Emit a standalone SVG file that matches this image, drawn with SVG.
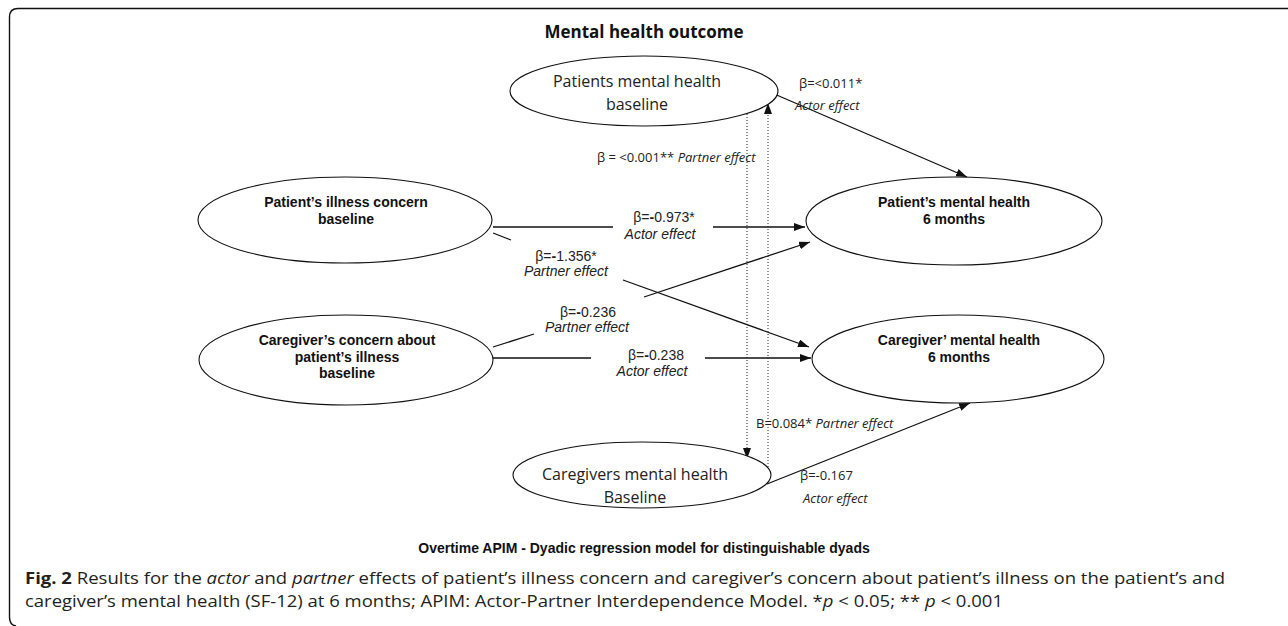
<svg xmlns="http://www.w3.org/2000/svg" width="1288" height="626" viewBox="0 0 1288 626">
<style>
.bg{fill:#fff}
.frame{fill:none;stroke:#111;stroke-width:1.4}
.node{fill:#fff;stroke:#111;stroke-width:1.1}
.c{fill:none;stroke:#111;stroke-width:1.3}
.d{fill:none;stroke:#222;stroke-width:1;stroke-dasharray:1 2}
.t1{font-family:"Open Sans","DejaVu Sans",sans-serif;font-size:16px;fill:#222;text-anchor:middle}
.t2{font-family:"Liberation Sans",Arial,sans-serif;font-size:14px;font-weight:bold;fill:#111;text-anchor:middle}
.la{font-family:"Liberation Sans",Arial,sans-serif;font-size:14px;fill:#222;text-anchor:middle}
.lo{font-family:"Open Sans","DejaVu Sans",sans-serif;font-size:13px;fill:#222}
.it{font-style:italic}
.title{font-family:"Open Sans","DejaVu Sans",sans-serif;font-size:17px;font-weight:bold;fill:#111;text-anchor:middle}
.cap{font-family:"Liberation Sans",Arial,sans-serif;font-size:14px;font-weight:bold;fill:#111;text-anchor:middle}
.fig{font-family:"Open Sans","DejaVu Sans",sans-serif;font-size:16.5px;fill:#231f20}
</style>
<defs>
<marker id="ah" markerUnits="userSpaceOnUse" markerWidth="12" markerHeight="10" refX="11" refY="4" orient="auto">
<path d="M0,0 L11,4 L0,8 Z" fill="#111"/>
</marker>
</defs>
<rect class="bg" x="0" y="0" width="1288" height="626"/>
<path class="frame" d="M1288,8.5 H18 Q9.5,8.5 9.5,17 V617 Q9.5,625 16,626"/>
<text class="title" x="644" y="38">Mental health outcome</text>

<g id="connectors">
<path class="c" d="M772,93 L967,177" marker-end="url(#ah)"/>
<path class="d" d="M747,108 V459" marker-end="url(#ah)"/>
<path class="d" d="M768,467 V103" marker-end="url(#ah)"/>
<path class="c" d="M493,227 H613"/>
<path class="c" d="M713,227 H805" marker-end="url(#ah)"/>
<path class="c" d="M493,233 L511,240"/>
<path class="c" d="M623,280 L809,347" marker-end="url(#ah)"/>
<path class="c" d="M493,347 L534,334"/>
<path class="c" d="M644,297 L810,242" marker-end="url(#ah)"/>
<path class="c" d="M493,358 H591"/>
<path class="c" d="M705,358 H811" marker-end="url(#ah)"/>
<path class="c" d="M767,484 L970,403" marker-end="url(#ah)"/>
</g>

<g id="labels">
<text class="lo" x="799" y="88">β=&lt;0.011*</text>
<text class="lo it" x="795" y="110">Actor effect</text>
<text class="lo" x="597" y="162">β = &lt;0.001** <tspan class="it">Partner effect</tspan></text>
<text class="la" x="664" y="222">β=<tspan font-weight="bold">-</tspan>0.973*</text>
<text class="la it" x="660" y="239">Actor effect</text>
<text class="la" x="566" y="261">β=<tspan font-weight="bold">-</tspan>1.356*</text>
<text class="la it" x="566" y="276">Partner effect</text>
<text class="la" x="588" y="317">β=<tspan font-weight="bold">-</tspan>0.236</text>
<text class="la it" x="587" y="332">Partner effect</text>
<text class="la" x="656" y="360">β=<tspan font-weight="bold">-</tspan>0.238</text>
<text class="la it" x="652" y="376">Actor effect</text>
<text class="lo" x="756" y="428">B=0.084* <tspan class="it">Partner effect</tspan></text>
<text class="lo" x="800" y="480">β=-0.167</text>
<text class="lo it" x="803" y="503">Actor effect</text>
</g>

<g id="n-pmh-base">
<ellipse class="node" cx="644" cy="91" rx="134" ry="35"/>
<text class="t1" x="637" y="87">Patients mental health</text>
<text class="t1" x="637" y="110">baseline</text>
</g>
<g id="n-pic-base">
<ellipse class="node" cx="345" cy="220" rx="147" ry="43"/>
<text class="t2" x="346" y="207">Patient’s illness concern</text>
<text class="t2" x="346" y="224">baseline</text>
</g>
<g id="n-ccpi-base">
<ellipse class="node" cx="346" cy="360" rx="147" ry="45"/>
<text class="t2" x="347" y="345">Caregiver’s concern about</text>
<text class="t2" x="347" y="362">patient’s illness</text>
<text class="t2" x="347" y="378">baseline</text>
</g>
<g id="n-pmh-6m">
<ellipse class="node" cx="954" cy="221" rx="148" ry="44"/>
<text class="t2" x="954" y="207">Patient’s mental health</text>
<text class="t2" x="954" y="224">6 months</text>
</g>
<g id="n-cmh-6m">
<ellipse class="node" cx="958" cy="359" rx="146" ry="44"/>
<text class="t2" x="959" y="345">Caregiver’ mental health</text>
<text class="t2" x="959" y="362">6 months</text>
</g>
<g id="n-cmh-base">
<ellipse class="node" cx="642" cy="475" rx="129" ry="33"/>
<text class="t1" x="635" y="480">Caregivers mental health</text>
<text class="t1" x="635" y="503">Baseline</text>
</g>

<text class="cap" x="644" y="553">Overtime APIM - Dyadic regression model for distinguishable dyads</text>
<text class="fig" x="25" y="584" textLength="1200" lengthAdjust="spacingAndGlyphs"><tspan font-weight="bold">Fig. 2</tspan> Results for the <tspan class="it">actor</tspan> and <tspan class="it">partner</tspan> effects of patient’s illness concern and caregiver’s concern about patient’s illness on the patient’s and</text>
<text class="fig" x="25" y="607" textLength="978" lengthAdjust="spacingAndGlyphs">caregiver’s mental health (SF-12) at 6 months; APIM: Actor-Partner Interdependence Model. *<tspan class="it">p</tspan> &lt; 0.05; ** <tspan class="it">p</tspan> &lt; 0.001</text>
</svg>
